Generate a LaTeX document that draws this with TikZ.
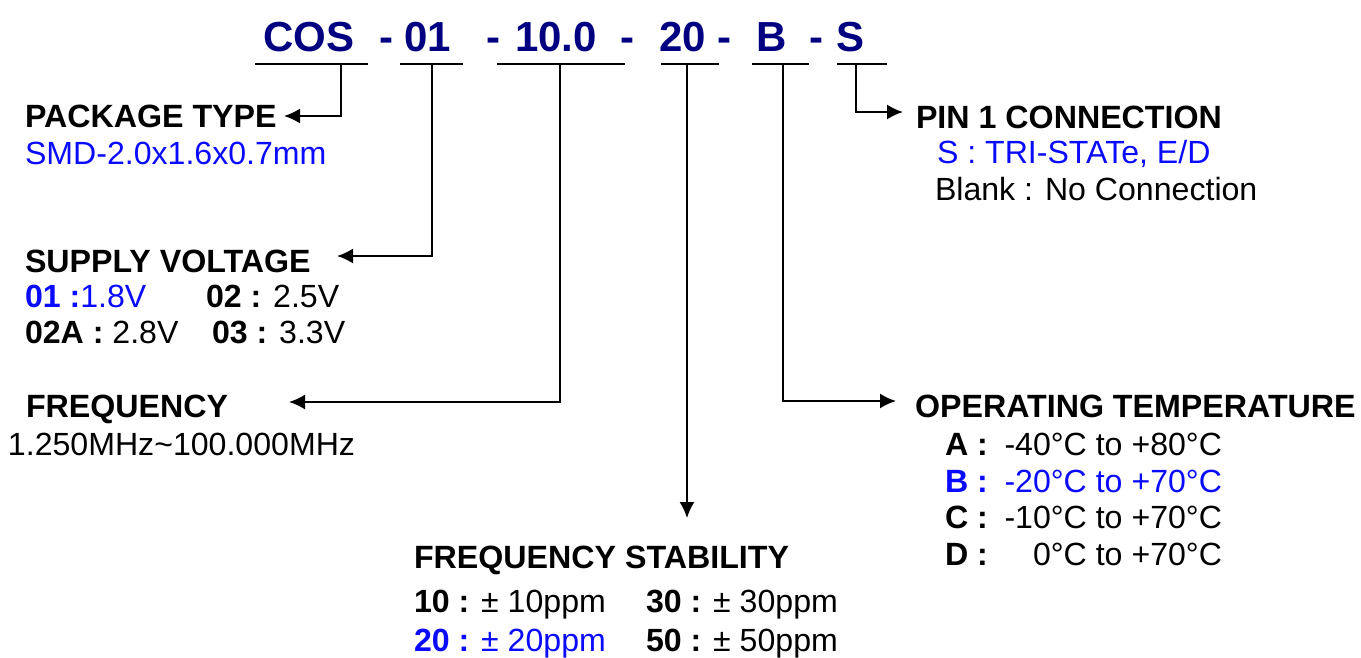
\documentclass[tikz,border=0pt]{standalone}
\usepackage{fontspec}
\setmainfont{Liberation Sans}
\usetikzlibrary{arrows.meta}
\definecolor{navy}{RGB}{0,0,128}
\definecolor{hblue}{RGB}{10,10,255}
\begin{document}
\begin{tikzpicture}[x=1pt,y=-1pt,
  lbl/.style={anchor=base west,inner sep=0,outer sep=0,font=\fontsize{32.1}{36}\selectfont},
  lblr/.style={anchor=base east,inner sep=0,outer sep=0,font=\fontsize{32.1}{36}\selectfont},
  head/.style={anchor=base west,inner sep=0,outer sep=0,font=\fontsize{32.2}{36}\selectfont\bfseries},
  ttl/.style={anchor=base west,inner sep=0,outer sep=0,font=\fontsize{42}{48}\selectfont\bfseries,text=navy},
  uline/.style={line width=1.8pt},
  conn/.style={line width=1.8pt,-{Latex[length=16pt,width=15pt]}}]
\useasboundingbox (0,0) rectangle (1361,657);

% title
\node[ttl] (tcos) at (263,51) {COS};
\node[ttl] (d1) at (379,51) {-};
\node[ttl] (t01) at (404,51) {01};
\node[ttl] (d2) at (486,51) {-};
\node[ttl] (tfreq) at (515,51) {10.0};
\node[ttl] (d3) at (620,51) {-};
\node[ttl] (t20) at (659,51) {20};
\node[ttl] (d4) at (717,51) {-};
\node[ttl] (tb) at (756,51) {B};
\node[ttl] (d5) at (809,51) {-};
\node[ttl] (ts) at (836,51) {S};

% underlines
\draw[uline] (255,64) -- (368,64);
\draw[uline] (400,64) -- (463,64);
\draw[uline] (497,64) -- (625,64);
\draw[uline] (661,64) -- (719,64);
\draw[uline] (752,64) -- (809,64);
\draw[uline] (837,64) -- (887,64);

\coordinate (u1) at (341,64);
\coordinate (u2) at (432,64);
\coordinate (u3) at (560,64);
\coordinate (u4) at (687,64);
\coordinate (u5) at (783,64);
\coordinate (u6) at (856,64);

\coordinate (p1) at (284,116);
\coordinate (p2) at (337,256);
\coordinate (p3) at (289,402);
\coordinate (p4) at (687,518);
\coordinate (p5) at (896,401);
\coordinate (p6) at (903,112);

% package type
\node[head] (pkg) at (25,127) {PACKAGE TYPE};
\node[lbl,text=hblue] (pkgv) at (25,164) {SMD-2.0x1.6x0.7mm};

% supply voltage
\node[head] (sup) at (25,272) {SUPPLY VOLTAGE};
\node[lbl,text=hblue] (v01) at (25,307) {\bfseries 01 :\mdseries1.8V};
\node[lbl] (v02) at (206,307) {\bfseries 02 :\mdseries{} 2.5V};
\node[lbl] (v02a) at (25,343) {\bfseries 02A :\mdseries{} 2.8V};
\node[lbl] (v03) at (212,343) {\bfseries 03 :\mdseries{} 3.3V};

% frequency
\node[head] (frq) at (26,417) {FREQUENCY};
\node[lbl] (frqv) at (8,455) {1.250MHz\textasciitilde100.000MHz};

% frequency stability
\node[head] (stab) at (414,568) {FREQUENCY STABILITY};
\node[lbl] (s10) at (414,612) {\bfseries 10 :\mdseries{} ± 10ppm};
\node[lbl] (s30) at (646,612) {\bfseries 30 :\mdseries{} ± 30ppm};
\node[lbl,text=hblue] (s20) at (414,651) {\bfseries 20 :\mdseries{} ± 20ppm};
\node[lbl] (s50) at (646,651) {\bfseries 50 :\mdseries{} ± 50ppm};

% pin 1
\node[head] (pin) at (916,128) {PIN 1 CONNECTION};
\node[lbl,text=hblue] (pins) at (937,163) {S : TRI-STATe, E/D};
\node[lbl] (pinb) at (935,200) {Blank : No Connection};

% operating temperature
\node[head] (opt) at (915,417) {OPERATING TEMPERATURE};
\node[head] (ta) at (945,455) {A :};
\node[lblr] (tav) at (1222,455) {-40°C to +80°C};
\node[head,text=hblue] (tbb) at (945,492) {B :};
\node[lblr,text=hblue] (tbv) at (1222,492) {-20°C to +70°C};
\node[head] (tc) at (945,528) {C :};
\node[lblr] (tcv) at (1222,528) {-10°C to +70°C};
\node[head] (td) at (945,565) {D :};
\node[lblr] (tdv) at (1222,565) {0°C to +70°C};

% connectors
\draw[conn] (u1) |- (p1);
\draw[conn] (u2) |- (p2);
\draw[conn] (u3) |- (p3);
\draw[conn] (u4) -- (p4);
\draw[conn] (u5) |- (p5);
\draw[conn] (u6) |- (p6);
\end{tikzpicture}
\end{document}
